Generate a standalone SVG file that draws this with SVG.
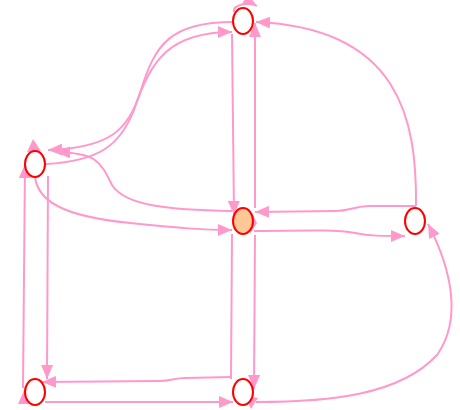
<svg xmlns="http://www.w3.org/2000/svg" width="460" height="410" viewBox="0 0 460 410">
<style>
.e{fill:none;stroke:#ff99cc;stroke-width:2;marker-end:url(#ah)}
.l{fill:none;stroke:#ff99cc;stroke-width:2}
.n{fill:#ffffff;stroke:#ff0000;stroke-width:2}
.t{fill:#ff99cc}
</style>
<defs>
<marker id="ah" viewBox="0 0 14 12" refX="14" refY="6" markerWidth="14" markerHeight="12" orient="auto" markerUnits="userSpaceOnUse"><path d="M0,0 L14,6 L0,12 z" fill="#ff99cc"/></marker>
</defs>
<rect width="460" height="410" fill="#ffffff"/>
<g id="edges">
<path class="e" d="M233,22 C170,22 155,45 141,90 C129,130 110,148 48,150"/>
<path class="e" d="M46,164 C100,161 120,145 134,110 C150,60 170,32 232,32"/>
<path class="e" d="M232,211 C170,210 125,206 112,185 C100,160 95,153 56,152"/>
<path class="e" d="M35,177 C38,200 60,216 130,223 C180,228 200,230 232,230"/>
<path class="e" d="M232,34 L234,215"/>
<path class="e" d="M255,208 L255,23"/>
<path class="e" d="M255,235 L254,389"/>
<path class="l" d="M231,379 L232,234"/>
<path class="e" d="M254,231 C320,230 340,230 355,233 C370,236 380,236 405,236"/>
<path class="e" d="M416,206 L370,206 C355,206 350,211 335,211 L255,212"/>
<path class="e" d="M416,206 C417,120 400,28 256,22"/>
<path class="e" d="M256,402 C330,402 400,395 437,355 C462,320 452,270 428,224"/>
<path class="e" d="M232,377 L185,378 C175,378 170,381 160,381 L42,382"/>
<path class="e" d="M45,402 L233,402"/>
<path class="e" d="M23,388 L25,164"/>
<path class="e" d="M48,176 L47,379"/>
<path class="e" d="M234,12 C232,4 250,2 257,6"/>
<polygon class="t" points="25,388 18,404 33,404"/>
<polygon class="t" points="244,395 258,398 251,409"/>
<polygon class="t" points="252,213 257,223 250,234"/>
<polygon class="t" points="33,139 27,152 41,151"/>
</g>
<g id="A"><ellipse class="n" cx="243" cy="21" rx="10" ry="13"/></g>
<g id="B"><ellipse class="n" cx="35" cy="164" rx="10" ry="13"/></g>
<g id="C"><ellipse class="n" cx="243" cy="221" rx="10" ry="13" style="fill:#ffc896"/></g>
<g id="D"><ellipse class="n" cx="415" cy="221" rx="10" ry="13"/></g>
<g id="E"><ellipse class="n" cx="35" cy="392" rx="10" ry="13"/></g>
<g id="F"><ellipse class="n" cx="243" cy="392" rx="10" ry="13"/></g>
</svg>
